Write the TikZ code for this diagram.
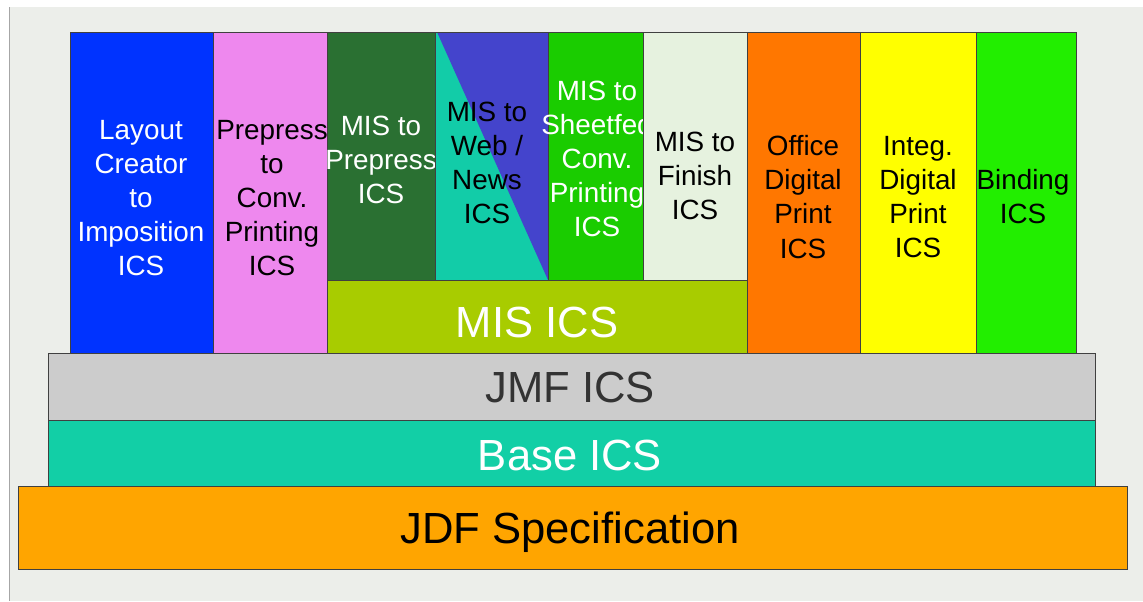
\documentclass[tikz,border=0pt]{standalone}
\usepackage{fontspec}
\setmainfont{Liberation Sans}

\definecolor{bgpaper}{HTML}{ECEEEA}
\definecolor{layoutblue}{HTML}{0033FF}
\definecolor{prepink}{HTML}{EE88EE}
\definecolor{darkgreen}{HTML}{2A7032}
\definecolor{tealgreen}{HTML}{12CCA8}
\definecolor{webblue}{HTML}{4444CC}
\definecolor{sheetgreen}{HTML}{1ACC00}
\definecolor{finishpale}{HTML}{E6F2DF}
\definecolor{misgreen}{HTML}{A8CC00}
\definecolor{officeorange}{HTML}{FF7700}
\definecolor{integyellow}{HTML}{FFFF00}
\definecolor{bindgreen}{HTML}{22EE00}
\definecolor{jmfgray}{HTML}{CCCCCC}
\definecolor{baseteal}{HTML}{12CFA6}
\definecolor{jdforange}{HTML}{FFA500}

\begin{document}
\begin{tikzpicture}[
  x=0.025cm, y=-0.025cm,
  box/.style={draw=black!75, line width=0.6pt},
  coltext/.style={align=center, inner sep=0pt, font=\fontsize{19.8}{24.2}\selectfont},
  bigtext/.style={inner sep=0pt, font=\fontsize{31}{37}\selectfont}
]
\useasboundingbox (0,0) rectangle (1143,601);
\fill[bgpaper] (9,7) rectangle (1143,601);
\draw[black!35, line width=0.6pt] (9,7) -- (9,601);

% Columns on the left
\draw[box, fill=layoutblue] (70,32) rectangle (213,353);
\node[coltext, text=white] (layout) at (141,198) {Layout\\Creator\\to\\Imposition\\ICS};
\draw[box, fill=prepink] (213,32) rectangle (327,353);
\node[coltext] (prepress) at (272,198) {Prepress\\to\\Conv.\\Printing\\ICS};

% MIS columns
\draw[box, fill=darkgreen] (327,32) rectangle (435,280);
\node[coltext, text=white] (mispre) at (381,160) {MIS to\\Prepress\\ICS};
\draw[box, fill=tealgreen] (435,32) rectangle (548,280);
\fill[webblue] (437,32) -- (548,32) -- (548,280) -- cycle;
\draw[box] (435,32) rectangle (548,280);
\node[coltext] (misweb) at (487,163) {MIS to\\Web /\\News\\ICS};
\draw[box, fill=sheetgreen] (548,32) rectangle (643,280);
\node[coltext, text=white] (missheet) at (597,159) {MIS to\\Sheetfed\\Conv.\\Printing\\ICS};
\draw[box, fill=finishpale] (643,32) rectangle (747,280);
\node[coltext] (misfinish) at (695,176) {MIS to\\Finish\\ICS};
\draw[box, fill=misgreen] (327,280) rectangle (747,353);
\node[bigtext, text=white] (misics) at (537,322) {MIS ICS};

% Columns on the right
\draw[box, fill=officeorange] (747,32) rectangle (860,353);
\node[coltext] (office) at (803,197) {Office\\Digital\\Print\\ICS};
\draw[box, fill=integyellow] (860,32) rectangle (976,353);
\node[coltext] (integ) at (918,197) {Integ.\\Digital\\Print\\ICS};
\draw[box, fill=bindgreen] (976,32) rectangle (1076,353);
\node[coltext] (binding) at (1023,197) {Binding\\ICS};

% Base layers
\draw[box, fill=jmfgray] (48,353) rectangle (1095,420);
\node[bigtext, text=black!80] (jmf) at (570,387) {JMF ICS};
\draw[box, fill=baseteal] (48,420) rectangle (1095,486);
\node[bigtext, text=white] (base) at (570,455) {Base ICS};
\draw[box, fill=jdforange] (18,486) rectangle (1127,569);
\node[bigtext] (jdf) at (570,532) {JDF Specification};
\end{tikzpicture}
\end{document}
